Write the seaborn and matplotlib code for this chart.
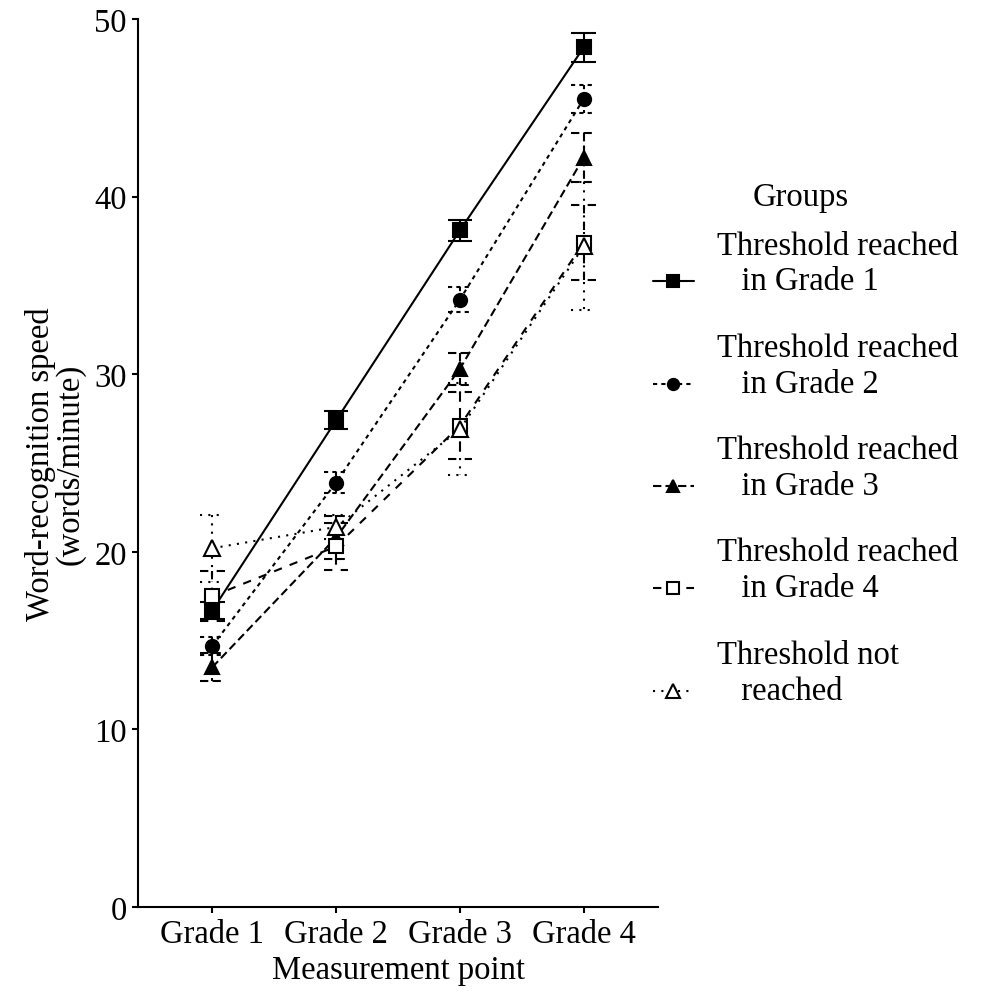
import numpy as np
import pandas as pd
import matplotlib
matplotlib.use("Agg")
import matplotlib.pyplot as plt
import seaborn as sns
from matplotlib.collections import LineCollection
from matplotlib.lines import Line2D

# ---- data ----
grades = ["Grade 1", "Grade 2", "Grade 3", "Grade 4"]
groups = ["Threshold reached in Grade 1", "Threshold reached in Grade 2",
          "Threshold reached in Grade 3", "Threshold reached in Grade 4",
          "Threshold not reached"]
legend_labels = ["Threshold reached\n   in Grade 1\n ",
                 "Threshold reached\n   in Grade 2\n ",
                 "Threshold reached\n   in Grade 3\n ",
                 "Threshold reached\n   in Grade 4\n ",
                 "Threshold not\n   reached\n "]
mean_g1 = [16.7, 27.4, 38.1, 48.4]
mean_g2 = [14.7, 23.9, 34.2, 45.5]
mean_g3 = [13.5, 20.8, 30.3, 42.2]
mean_g4 = [17.5, 20.3, 27.1, 37.4]
mean_nr = [20.2, 21.4, 26.9, 37.2]
err_g1 = [0.5, 0.5, 0.6, 0.8]
err_g2 = [0.5, 0.6, 0.7, 0.8]
err_g3 = [0.8, 1.2, 0.9, 1.4]
err_g4 = [1.4, 1.3, 1.9, 2.1]
err_nr = [1.9, 0.7, 2.6, 3.6]

means = [mean_g1, mean_g2, mean_g3, mean_g4, mean_nr]
errs = [err_g1, err_g2, err_g3, err_g4, err_nr]

LW = 1.5
dash_map = {groups[0]: "", groups[1]: (2, 2), groups[2]: (4, 2),
            groups[3]: (4, 4), groups[4]: (1, 3)}
marker_map = {groups[0]: "s", groups[1]: "o", groups[2]: "^",
              groups[3]: "s", groups[4]: "^"}
open_groups = {groups[3], groups[4]}
msize = {groups[0]: 9.5, groups[1]: 9.5, groups[2]: 10.5,
         groups[3]: 9.5, groups[4]: 12}

rows = []
for g, m in zip(groups, means):
    for i, v in enumerate(m):
        rows.append({"x": i, "y": v, "group": g})
df = pd.DataFrame(rows)

sns.set_theme(style="ticks")
plt.rcParams["font.family"] = ["Liberation Serif", "DejaVu Serif"]
plt.rcParams["text.color"] = "black"
plt.rcParams["axes.labelcolor"] = "black"
plt.rcParams["xtick.color"] = "black"
plt.rcParams["ytick.color"] = "black"
FS = 23.5

fig = plt.figure(figsize=(9.83, 9.95), dpi=100)
ax = fig.add_axes([138 / 983, 87 / 995, (658 - 138) / 983, (908 - 20) / 995])

# error bars (drawn in each group's linetype)
for g, m, e in zip(groups, means, errs):
    segs = []
    w = 0.1
    for i, (v, d) in enumerate(zip(m, e)):
        segs.append([(i - w, v + d), (i + w, v + d)])
        segs.append([(i, v + d), (i, v - d)])
        segs.append([(i - w, v - d), (i + w, v - d)])
    ls = "solid" if dash_map[g] == "" else (0, dash_map[g])
    ax.add_collection(LineCollection(segs, colors="black", linewidths=LW,
                                     linestyles=ls, zorder=2))

sns.lineplot(data=df, x="x", y="y", hue="group", style="group",
             hue_order=groups, style_order=groups,
             palette=["black"] * 5, dashes=dash_map, markers=marker_map,
             linewidth=LW, ax=ax, legend=False, zorder=3)

for line, g in zip(ax.lines, groups):
    line.set_markersize(msize[g])
    line.set_markeredgecolor("black")
    line.set_markeredgewidth(1.5)
    line.set_markerfacecolor("white" if g in open_groups else "black")

ax.set_xlim(-0.6, 3.6)
ax.set_ylim(0, 50)
ax.set_xticks(range(len(grades)))
ax.set_xticklabels(grades)
ax.set_yticks([0, 10, 20, 30, 40, 50])
ax.tick_params(axis="both", labelsize=FS, length=4, width=1.5, pad=4,
               color="black", labelcolor="black")
for s in ["top", "right"]:
    ax.spines[s].set_visible(False)
for s in ["left", "bottom"]:
    ax.spines[s].set_linewidth(1.5)
    ax.spines[s].set_color("black")
ax.set_xlabel("Measurement point", fontsize=FS, labelpad=4, color="black")
ax.set_ylabel("Word-recognition speed\n(words/minute)", fontsize=FS,
              labelpad=6, linespacing=0.95, color="black")
ax.grid(False)

handles = []
for g in groups:
    ls = "-" if dash_map[g] == "" else (0, dash_map[g])
    handles.append(Line2D([], [], color="black", lw=LW, linestyle=ls,
                          marker=marker_map[g], markersize=msize[g] * 0.85,
                          markeredgecolor="black", markeredgewidth=1.5,
                          markerfacecolor="white" if g in open_groups else "black"))
fig.text(801 / 983, 1 - 198 / 995, "Groups", fontsize=FS, ha="center",
         va="center", color="black")
leg = fig.legend(handles, legend_labels, loc="upper left",
                 bbox_to_anchor=(653 / 983, 1 - 231 / 995), frameon=False,
                 fontsize=FS, handlelength=1.25,
                 handletextpad=0.7, labelspacing=0.0, borderpad=0,
                 borderaxespad=0)
for t in leg.get_texts():
    t.set_linespacing(1.23)
    t.set_color("black")

fig.savefig("out.png", dpi=100, facecolor="white")
